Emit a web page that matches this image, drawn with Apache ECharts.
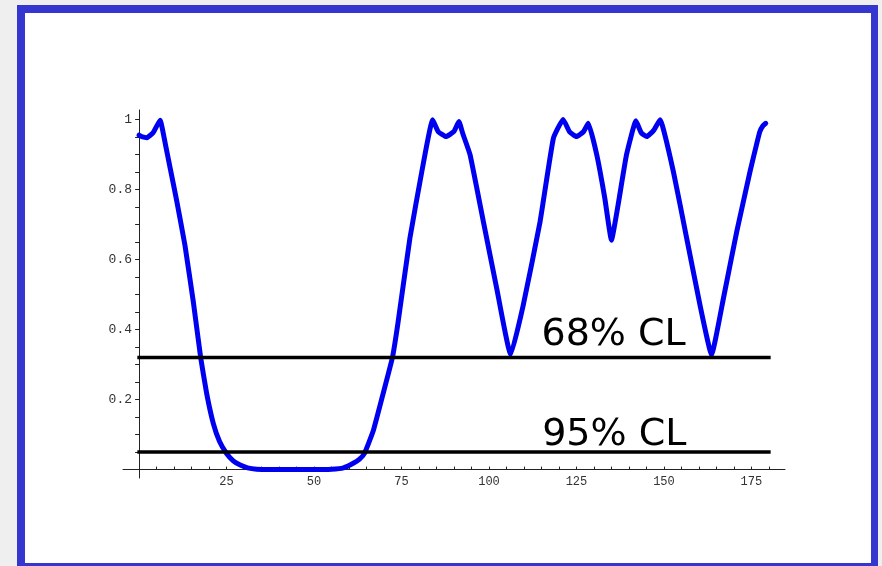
<!DOCTYPE html>
<html>
<head>
<meta charset="utf-8">
<script src="https://cdn.jsdelivr.net/npm/echarts@6/dist/echarts.min.js"></script>
<style>
  html, body { margin: 0; padding: 0; background: #efefef; overflow: hidden; }
  #frame { position: absolute; left: 17px; top: 5px; width: 861px; height: 566px; box-sizing: border-box;
           background: #ffffff; border: 8px solid #3535d0; border-right-width: 7px; }
  #chart { position: absolute; left: 0; top: 0; width: 882px; height: 566px; }
</style>
</head>
<body>
<div id="frame"></div>
<div id="chart"></div>
<script>
// ---- data ----
const angleValues = [0, 1, 2.2, 4, 6, 7.5, 8.9, 10.8, 13.1, 15.5, 17.6, 19.3, 21.2, 23, 25, 27, 28.9, 31, 33.6, 37, 40, 45, 50, 55, 58.4, 61.2, 63, 64.4, 66.9, 69.3, 72.4, 74, 77.4, 80.8, 83.9, 85.5, 87.7, 90, 91.4, 92.5, 94.6, 98.4, 102.2, 106.2, 109.8, 114.6, 118.4, 121.2, 123, 125, 127, 128.4, 130.8, 133.1, 135, 136.9, 139.3, 142, 143.5, 145.1, 147, 148.9, 152.7, 156.5, 160.3, 163.6, 167, 170.8, 174.6, 176.5, 177.4, 178.3, 179.1];
const probabilityValues = [0.955, 0.95, 0.948, 0.962, 0.998, 0.93, 0.86, 0.765, 0.641, 0.479, 0.32, 0.218, 0.132, 0.08, 0.046, 0.024, 0.013, 0.005, 0.001, 0, 0, 0, 0, 0.001, 0.005, 0.018, 0.03, 0.046, 0.11, 0.2, 0.32, 0.42, 0.661, 0.851, 0.999, 0.965, 0.951, 0.966, 0.994, 0.96, 0.899, 0.708, 0.518, 0.328, 0.47, 0.708, 0.946, 1.0, 0.965, 0.951, 0.965, 0.989, 0.899, 0.775, 0.655, 0.756, 0.899, 0.996, 0.962, 0.951, 0.968, 0.999, 0.851, 0.661, 0.47, 0.328, 0.489, 0.679, 0.851, 0.93, 0.965, 0.982, 0.989];
const clLevels = [0.32, 0.05];
const clNames = ['68% CL', '95% CL'];
const clRange = [0, 180];
const clLabelAngle = [115, 115.2];
const xTickLabels = [25, 50, 75, 100, 125, 150, 175];
const xTickMarks = [5, 10, 15, 20, 25, 30, 35, 40, 45, 50, 55, 60, 65, 70, 75, 80, 85, 90, 95, 100, 105, 110, 115, 120, 125, 130, 135, 140, 145, 150, 155, 160, 165, 170, 175, 180];
const yTickLabels = [0.2, 0.4, 0.6, 0.8, 1];
const yTickMarks = [0.05, 0.1, 0.15, 0.2, 0.25, 0.3, 0.35, 0.4, 0.45, 0.5, 0.55, 0.6, 0.65, 0.7, 0.75, 0.8, 0.85, 0.9, 0.95, 1];

// ---- chart ----
const chart = echarts.init(document.getElementById('chart'), null, { renderer: 'canvas' });
const axisFont = { fontFamily: '"Liberation Mono", "DejaVu Sans Mono", monospace', fontSize: 12, color: '#333' };
const labelOffsets = [[0, -3], [0, 2]];

const option = {
  animation: false,
  backgroundColor: 'transparent',
  grid: { left: 123, right: 97, top: 110, bottom: 88 },
  xAxis: {
    type: 'value', min: -4.6, max: 184.6,
    splitLine: { show: false },
    axisLine: { show: true, onZero: true, lineStyle: { color: '#222', width: 1 } },
    axisTick: { show: true, inside: true, length: 3, customValues: xTickMarks, lineStyle: { color: '#222' } },
    axisLabel: Object.assign({ show: true, margin: -2, customValues: xTickLabels }, axisFont)
  },
  yAxis: {
    type: 'value', min: -0.024, max: 1.027,
    splitLine: { show: false },
    axisLine: { show: true, onZero: true, lineStyle: { color: '#222', width: 1 } },
    axisTick: { show: true, inside: false, length: 4, customValues: yTickMarks, lineStyle: { color: '#222' } },
    axisLabel: Object.assign({ show: true, margin: -9, customValues: yTickLabels }, axisFont, { fontSize: 13 })
  },
  series: [
    {
      type: 'line',
      data: angleValues.map((a, i) => [a, probabilityValues[i]]),
      showSymbol: false,
      smooth: 0.12,
      clip: false,
      z: 3,
      lineStyle: { color: '#0000f0', width: 5, cap: 'round', join: 'round' }
    }
  ].concat(clLevels.map(level => ({
      type: 'line',
      data: [[clRange[0], level], [clRange[1], level]],
      showSymbol: false,
      z: 4,
      lineStyle: { color: '#000', width: 3.5, cap: 'square' }
  }))).concat([{
      type: 'scatter',
      symbolSize: 0,
      z: 5,
      itemStyle: { opacity: 1 },
      data: clLevels.map((level, i) => ({
        value: [clLabelAngle[i], level],
        name: clNames[i],
        label: { offset: labelOffsets[i] }
      })),
      label: {
        show: true,
        position: [0, 0],
        align: 'left',
        verticalAlign: 'bottom',
        formatter: p => p.name,
        fontFamily: '"DejaVu Sans", sans-serif',
        fontSize: 38,
        color: '#000',
        opacity: 1
      }
  }])
};
chart.setOption(option);
</script>
</body>
</html>
